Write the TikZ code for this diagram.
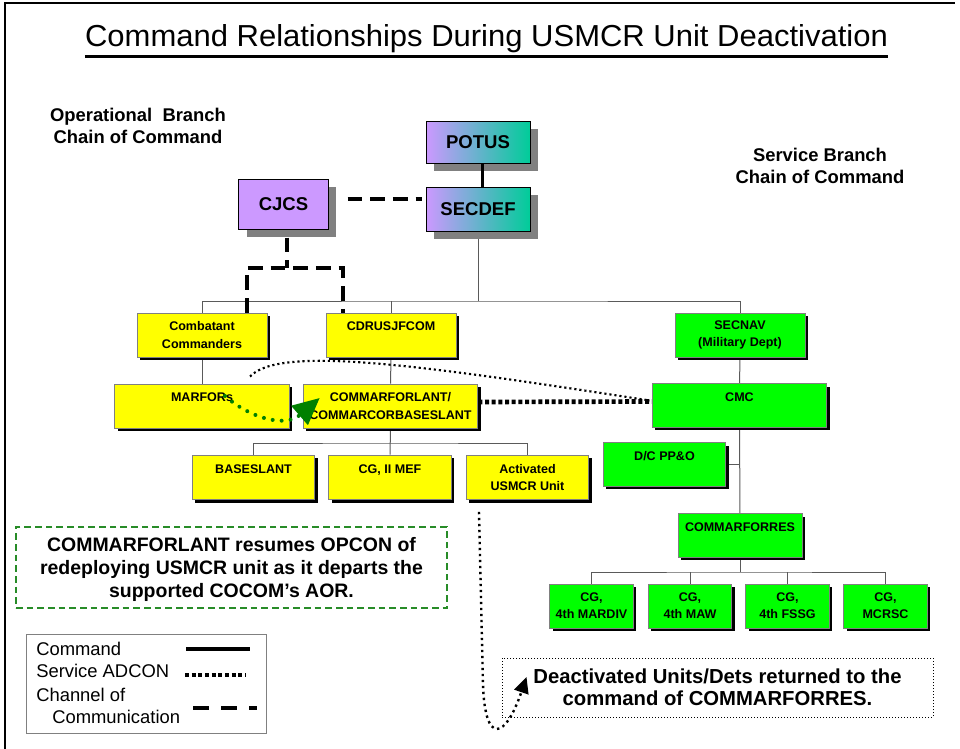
\documentclass[tikz,border=0pt]{standalone}
\usepackage{graphicx}
\usepackage{fontspec}
\setmainfont{Liberation Sans}
\usetikzlibrary{arrows.meta}
\usetikzlibrary{shadows}
\usetikzlibrary{backgrounds}
\usetikzlibrary{calc}

\definecolor{boxgray}{RGB}{128,128,128}
\definecolor{linkgray}{RGB}{90,90,90}
\definecolor{potusl}{RGB}{204,153,255}
\definecolor{potusr}{RGB}{0,204,153}
\definecolor{cmyellow}{RGB}{255,255,0}
\definecolor{cmgreen}{RGB}{0,255,0}
\definecolor{dotgreen}{RGB}{0,128,0}
\definecolor{notegreen}{RGB}{40,140,40}

\tikzset{
  unitbox/.style={draw=boxgray, line width=0.75pt, inner sep=0pt, align=center,
    font=\fontsize{9.4}{13}\selectfont\bfseries,
    drop shadow={shadow xshift=2.25pt, shadow yshift=-2.25pt, fill=black, opacity=1}},
  ybox/.style={unitbox, fill=cmyellow},
  gbox/.style={unitbox, fill=cmgreen},
  chiefbox/.style={draw=black, line width=0.75pt, inner sep=0pt,
    font=\fontsize{13.9}{16}\selectfont\bfseries,
    drop shadow={shadow xshift=6pt, shadow yshift=-6pt, fill=boxgray, opacity=1}},
  link/.style={draw=linkgray, line width=0.75pt},
  chan/.style={line width=2.4pt, dash pattern=on 11pt off 6pt},
  adcon/.style={line width=3.5pt, dash pattern=on 3pt off 2pt},
  headfont/.style={align=center, font=\fontsize{13.8}{16}\selectfont\bfseries},
  legfont/.style={inner sep=0pt, anchor=base west, font=\fontsize{13.8}{16}\selectfont},
}

\begin{document}
\begin{tikzpicture}[x=0.75pt, y=-0.75pt]
  \useasboundingbox (0,0) rectangle (960,749);
  \draw[line width=1.5pt] (5,749) -- (5,3) -- (955,3); % frame

  \node[inner sep=0pt, anchor=base] (title) at (486.5,47)
    {\resizebox{602pt}{16.5pt}{Command Relationships During USMCR Unit Deactivation}};
  \draw[line width=1.9pt] ([yshift=-7pt]title.base west) -- ([yshift=-7pt]title.base east);

  \node[headfont] (opbranch)  at (138,126) {Operational\ \ Branch\\Chain of Command};
  \node[headfont] (svcbranch) at (820,166) {Service Branch\\Chain of Command};

  % national level
  \node[chiefbox, left color=potusl, right color=potusr, minimum width=78pt, minimum height=31.5pt]   (potus)  at (478,142)   {POTUS};
  \node[chiefbox, left color=potusl, right color=potusr, minimum width=78pt, minimum height=33pt]     (secdef) at (478,209)   {SECDEF};
  \node[chiefbox, fill=potusl, minimum width=66.8pt, minimum height=37.5pt]                          (cjcs)   at (283.5,204) {CJCS};

  % operational branch
  \node[ybox, minimum width=97.5pt, minimum height=33pt]   (cocom)      at (202,335)     {Combatant\\Commanders};
  \node[ybox, minimum width=97.5pt, minimum height=33pt]   (jfcom)      at (391,335)     {CDRUSJFCOM\\\phantom{X}};
  \node[ybox, minimum width=131pt, minimum height=33pt]    (marfors)    at (202,406)     {MARFORs\\\phantom{X}};
  \node[ybox, minimum width=131pt, minimum height=33pt]    (marforlant) at (390.5,406)   {COMMARFORLANT/\\COMMARCORBASESLANT};
  \node[ybox, minimum width=92pt, minimum height=33.5pt]   (baseslant)  at (253.5,477.5) {BASESLANT\\\phantom{X}};
  \node[ybox, minimum width=92pt, minimum height=33.5pt]   (mef)        at (390,477.5)   {CG, II MEF\\\phantom{X}};
  \node[ybox, minimum width=92pt, minimum height=33.5pt]   (actunit)    at (527.5,477.5) {Activated\\USMCR Unit};

  % service branch
  \node[gbox, minimum width=97.5pt, minimum height=33pt]   (secnav)     at (740,335)     {SECNAV\\(Military Dept)};
  \node[gbox, minimum width=131pt, minimum height=32.3pt]  (cmc)        at (739.5,405.5) {CMC\\\phantom{X}};
  \node[gbox, minimum width=92pt, minimum height=32.3pt]   (dcpp)       at (664.5,464.5) {D/C PP\&O\\\phantom{X}};
  \node[gbox, minimum width=93pt, minimum height=32.3pt]   (marforres)  at (740,535.5)   {COMMARFORRES\\\phantom{X}};
  \node[gbox, minimum width=62.3pt, minimum height=33pt]   (cgdiv)      at (591.5,606)   {CG,\\4th MARDIV};
  \node[gbox, minimum width=62.3pt, minimum height=33pt]   (cgmaw)      at (690,606)     {CG,\\4th MAW};
  \node[gbox, minimum width=62.3pt, minimum height=33pt]   (cgfssg)     at (787.5,606)   {CG,\\4th FSSG};
  \node[gbox, minimum width=62.3pt, minimum height=33pt]   (cgmcrsc)    at (885.5,606)   {CG,\\MCRSC};

  % command lines
  \begin{scope}[on background layer]
    \coordinate (osdbus)  at (478,301);
    \coordinate (lantbus) at (390.5,443);
    \coordinate (resbus)  at (740,572);
    \draw[link] (secdef.south) -- (osdbus);
    \draw[link] (cocom.north) |- (osdbus) -| (secnav.north);
    \draw[link] (jfcom.north) -- (jfcom.north |- osdbus);
    \draw[link] (cocom) -- (marfors);
    \draw[link] (jfcom) -- (marforlant);
    \draw[link] (secnav) -- (cmc);
    \draw[link] (marforlant) -- (mef);
    \draw[link] (baseslant.north) |- (lantbus) -| (actunit.north);
    \draw[link] (cmc) -- (marforres);
    \draw[link] (dcpp.east) -- (dcpp.east -| cmc.south);
    \draw[link] (marforres) -- (resbus);
    \draw[link] (cgdiv.north) |- (resbus) -| (cgmcrsc.north);
    \draw[link] (cgmaw.north) -- (cgmaw.north |- resbus);
    \draw[link] (cgfssg.north) -- (cgfssg.north |- resbus);
  \end{scope}
  \draw[line width=2.2pt] ([xshift=3.5pt]potus.south) -- ([xshift=3.5pt]secdef.north);

  % channels of communication
  \coordinate (cjcsjoin) at (287,268);
  \draw[chan] ($(cjcs.east)+(19,-5)$) -- ($(secdef.west)+(-4,-10)$);
  \draw[chan] ($(cjcs.south)+(3.5,8)$) -- (cjcsjoin);
  \draw[chan] ($(cocom.north)+(45,0)$) |- (cjcsjoin) -| ($(jfcom.north)+(-48,0)$);

  % service adcon
  \draw[adcon] ([yshift=3pt]marforlant.east) -- ([yshift=3pt]cmc.west);
  \draw[line width=1.6pt, dash pattern=on 1.6pt off 2.2pt]
    ($(marfors.north)+(48,-7)$) .. controls (280,345) and (420,365) .. ($(cmc.west)+(-2,-5)$);
  \draw[dotgreen, line width=3pt, line cap=round, dash pattern=on 0pt off 6.75pt,
    -{Triangle[length=20pt, width=18.5pt]}]
    ($(marfors.center)+(23,-10)$) .. controls (250,418) and (285,428) .. ($(marforlant.west)+(17,-8)$);

  % notes
  \node[draw=notegreen, line width=1.2pt, dash pattern=on 5pt off 3pt, minimum width=323.25pt,
    minimum height=60.75pt, inner sep=0pt, align=center, text depth=0pt,
    font=\fontsize{14.6}{17}\selectfont\bfseries] (note) at (231.5,567.5)
    {COMMARFORLANT resumes OPCON of\\redeploying USMCR unit as it departs the\\supported COCOM’s AOR.};
  \node[draw, line width=0.75pt, dash pattern=on 0.75pt off 1.5pt, minimum width=323.25pt,
    minimum height=44.25pt, inner sep=0pt, align=center,
    font=\fontsize{15.2}{16.5}\selectfont\bfseries] (deact) at (717.5,687.5)
    {Deactivated Units/Dets returned to the\\command of COMMARFORRES.};
  \draw[line width=1.8pt, dash pattern=on 1.8pt off 2.7pt, -{Triangle[length=12pt, width=11pt]}]
    ($(actunit.south)+(-48.5,11.5)$) -- (483,685) .. controls (485,745) and (505,740) .. ($(deact.west)+(25,-10.5)$);

  % legend
  \node[draw=boxgray, line width=0.75pt, minimum width=180pt, minimum height=74.25pt] (legend) at (146,683.5) {};
  \node[legfont] (lgcmd)   at (36,655) {Command};
  \node[legfont] (lgadcon) at (36,677) {Service ADCON};
  \node[legfont] (lgchan)  at (36,701) {Channel of};
  \node[legfont] (lgcomm)  at (52,723) {Communication};
  \draw[line width=3.5pt] (186,649) -- (250,649);
  \draw[adcon] (185,675) -- (246,675);
  \draw[line width=3pt, dash pattern=on 12pt off 9pt] (193,708) -- (257,708);
\end{tikzpicture}
\end{document}
